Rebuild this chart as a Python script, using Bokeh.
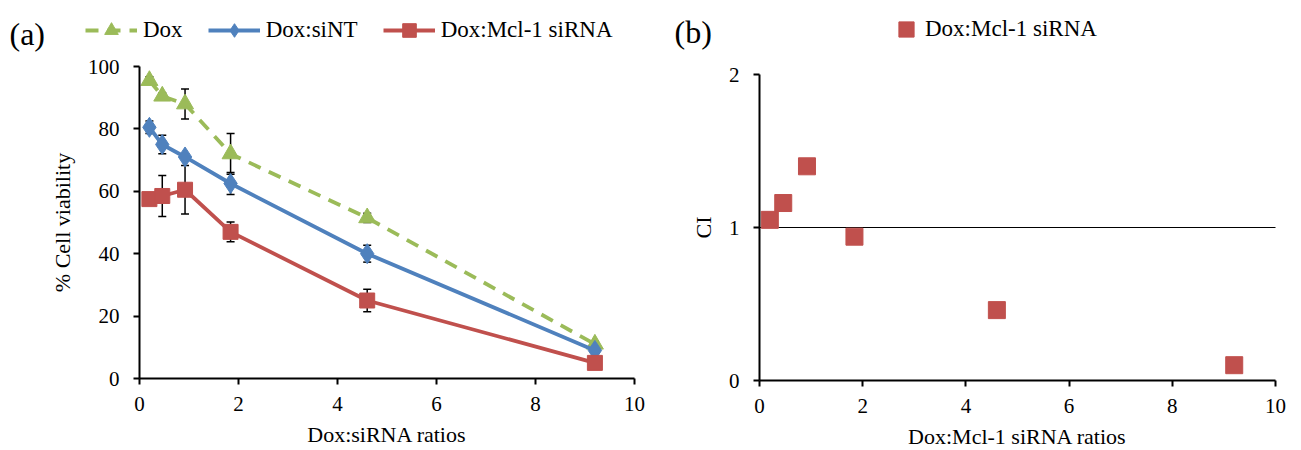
from bokeh.plotting import figure
from bokeh.layouts import row
from bokeh.models import (ColumnDataSource, Whisker, TeeHead, Legend, LegendItem,
                          Label, FixedTicker, LinearAxis)
from bokeh.embed import file_html
from bokeh.resources import INLINE

# ---------------- data ----------------
ratios = [0.2, 0.46, 0.92, 1.84, 4.6, 9.2]
dox = [95.5, 90.5, 88.0, 72.0, 51.5, 11.0]
dox_err = [1.2, 1.0, 4.8, 6.5, 1.5, 1.0]
sint = [80.5, 75.0, 71.0, 62.5, 40.0, 9.0]
sint_err = [2.0, 3.0, 1.0, 3.5, 2.7, 1.0]
mcl = [57.5, 58.5, 60.5, 47.0, 25.0, 5.0]
mcl_err = [0.5, 6.6, 7.8, 3.2, 3.6, 0.5]

ci_ratios = [0.2, 0.46, 0.92, 1.84, 4.6, 9.2]
ci = [1.05, 1.16, 1.40, 0.94, 0.46, 0.10]
ci_threshold = 1.0

x_ticks = [0, 2, 4, 6, 8, 10]
y_ticks_a = [0, 20, 40, 60, 80, 100]
y_ticks_b = [0, 1, 2]

FONT = "Liberation Serif"
GREEN = "#9BBB59"
BLUE = "#4F81BD"
RED = "#C0504D"

FIG_H = 450


def make_panel(width, px_x0, px_x1, px_ytop, px_y0, xlim, ylim):
    """Figure whose frame fills the whole canvas; the axis box sits at the
    given pixel positions (px_x0 -> xlim[0], px_x1 -> xlim[1],
    px_y0 -> ylim[0], px_ytop -> ylim[1])."""
    sx = (px_x1 - px_x0) / (xlim[1] - xlim[0])
    sy = (px_y0 - px_ytop) / (ylim[1] - ylim[0])
    xr = (xlim[0] - px_x0 / sx, xlim[1] + (width - px_x1) / sx)
    yr = (ylim[0] - (FIG_H - px_y0) / sy, ylim[1] + px_ytop / sy)
    p = figure(width=width, height=FIG_H, x_range=xr, y_range=yr,
               output_backend="svg", toolbar_location=None, title=None,
               x_axis_location=None, y_axis_location=None, min_border=0)
    p.outline_line_color = None
    p.grid.visible = False

    def to_data(px, py):
        return (xlim[0] + (px - px_x0) / sx, ylim[0] + (px_y0 - py) / sy)
    return p, to_data


def add_axes(p, xlim, ylim, yticks, xlabel, ylabel):
    xa = LinearAxis(fixed_location=ylim[0], bounds=xlim,
                    ticker=FixedTicker(ticks=x_ticks), axis_label=xlabel)
    ya = LinearAxis(fixed_location=xlim[0], bounds=ylim,
                    ticker=FixedTicker(ticks=yticks), axis_label=ylabel)
    for ax in (xa, ya):
        ax.axis_line_width = 2
        ax.axis_line_color = "black"
        ax.major_tick_line_width = 2
        ax.major_tick_line_color = "black"
        ax.major_tick_out = 6
        ax.major_tick_in = 0
        ax.minor_tick_line_color = None
        ax.major_label_text_font = FONT
        ax.major_label_text_font_size = "21px"
        ax.major_label_text_color = "black"
        ax.axis_label_text_font = FONT
        ax.axis_label_text_font_size = "22px"
        ax.axis_label_text_font_style = "normal"
        ax.axis_label_text_color = "black"
    xa.major_label_standoff = 12
    xa.axis_label_standoff = 8
    ya.major_label_standoff = 14
    ya.axis_label_standoff = 10
    p.add_layout(xa, "below")
    p.add_layout(ya, "left")


# ---------------- panel (a) ----------------
XLIM = (0, 10)
YLIM_A = (0, 100)
pa, da = make_panel(658, 139, 634, 66, 378, XLIM, YLIM_A)
add_axes(pa, XLIM, YLIM_A, y_ticks_a, "Dox:siRNA ratios", "% Cell viability")

series = [
    ("Dox", dox, dox_err, GREEN, "triangle", 17, "13 9"),
    ("Dox:siNT", sint, sint_err, BLUE, "diamond", 20, "solid"),
    ("Dox:Mcl-1 siRNA", mcl, mcl_err, RED, "square", 15, "solid"),
]

items = []
for name, vals, errs, col, marker, size, dash in series:
    src = ColumnDataSource(dict(x=ratios, y=vals))
    lr = pa.line("x", "y", source=src, line_color=col, line_width=3.8,
                 line_dash=dash)
    sr = pa.scatter("x", "y", source=src, marker=marker, size=size,
                    fill_color=col, line_color=col)
    items.append(LegendItem(label=name, renderers=[lr, sr]))

for name, vals, errs, col, marker, size, dash in series:
    src = ColumnDataSource(dict(x=ratios,
                                upper=[v + e for v, e in zip(vals, errs)],
                                lower=[v - e for v, e in zip(vals, errs)]))
    w = Whisker(base="x", upper="upper", lower="lower", source=src,
                dimension="height", line_color="black", line_width=1.5,
                upper_head=TeeHead(size=8, line_width=1.5, line_color="black"),
                lower_head=TeeHead(size=8, line_width=1.5, line_color="black"))
    pa.add_layout(w)

leg_a = Legend(items=items, location=(85, FIG_H - 47), orientation="horizontal",
               glyph_width=52, glyph_height=34, label_standoff=6, spacing=25,
               padding=0, margin=0, border_line_color=None,
               background_fill_alpha=0, label_text_font=FONT,
               label_text_font_size="23px", label_text_color="black")
pa.add_layout(leg_a)
lx, ly = da(9, 33)
pa.add_layout(Label(x=lx, y=ly, text="(a)", text_font=FONT,
                    text_font_size="32px", text_baseline="middle",
                    text_align="left", text_color="black"))

# ---------------- panel (b) ----------------
YLIM_B = (0, 2)
pb, db = make_panel(643, 101, 617, 74, 380, XLIM, YLIM_B)
add_axes(pb, XLIM, YLIM_B, y_ticks_b, "Dox:Mcl-1 siRNA ratios", "CI")

pb.line(x=list(XLIM), y=[ci_threshold, ci_threshold], line_color="black",
        line_width=1.2)
src_b = ColumnDataSource(dict(x=ci_ratios, y=ci))
sb = pb.scatter("x", "y", source=src_b, marker="square", size=17,
                fill_color=RED, line_color=RED)
leg_b = Legend(items=[LegendItem(label="Dox:Mcl-1 siRNA", renderers=[sb])],
               location=(229, FIG_H - 48), orientation="horizontal",
               glyph_width=38, glyph_height=38, label_standoff=0,
               padding=0, margin=0, border_line_color=None,
               background_fill_alpha=0, label_text_font=FONT,
               label_text_font_size="23px", label_text_color="black")
pb.add_layout(leg_b)
bx, by = db(16, 31)
pb.add_layout(Label(x=bx, y=by, text="(b)", text_font=FONT,
                    text_font_size="32px", text_baseline="middle",
                    text_align="left", text_color="black"))

layout = row(pa, pb)
open("out.html", "w").write(file_html(layout, INLINE))
